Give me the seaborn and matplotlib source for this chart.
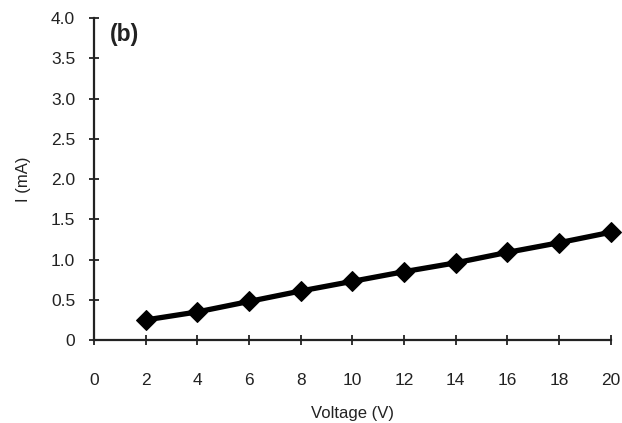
import matplotlib
matplotlib.use("Agg")
import matplotlib.pyplot as plt
import seaborn as sns
import pandas as pd

voltage = [2, 4, 6, 8, 10, 12, 14, 16, 18, 20]
current = [0.25, 0.35, 0.48, 0.61, 0.73, 0.85, 0.96, 1.09, 1.21, 1.34]
x_ticks = [0, 2, 4, 6, 8, 10, 12, 14, 16, 18, 20]
y_ticks = [0, 0.5, 1.0, 1.5, 2.0, 2.5, 3.0, 3.5, 4.0]
y_tick_labels = ["0", "0.5", "1.0", "1.5", "2.0", "2.5", "3.0", "3.5", "4.0"]

sns.set_style("white")
plt.rcParams['font.family'] = ['Liberation Sans', 'DejaVu Sans']

df = pd.DataFrame({"V": voltage, "I": current})
fig = plt.figure(figsize=(6.22, 4.23), dpi=100)
ax = fig.add_axes([0.151, 0.196, 0.831, 0.761])
sns.lineplot(data=df, x="V", y="I", ax=ax, color="black", linewidth=3.8,
             marker="D", markersize=10, markeredgecolor="black", clip_on=False)
ax.set_xlim(0, 20)
ax.set_ylim(0, 4.0)
ax.set_xticks(x_ticks)
ax.set_xticklabels([str(t) for t in x_ticks])
ax.set_yticks(y_ticks)
ax.set_yticklabels(y_tick_labels)
for s in ["top", "right"]:
    ax.spines[s].set_visible(False)
for s in ["left", "bottom"]:
    ax.spines[s].set_color("#222222")
    ax.spines[s].set_linewidth(1.6)
ax.tick_params(axis="both", bottom=True, left=True, direction="inout", length=7, width=1.3,
               colors="#222222", labelsize=12.5, labelcolor="#222222")
ax.tick_params(axis="x", pad=20)
ax.tick_params(axis="y", pad=10)
ax.set_xlabel("Voltage (V)", fontsize=12, color="#222222", labelpad=13)
ax.set_ylabel("I (mA)", fontsize=12, color="#222222", labelpad=14)
ax.text(0.03, 0.985, "(b)", transform=ax.transAxes, fontsize=16.5,
        fontweight="bold", va="top", ha="left", color="#222222")
fig.savefig("out.png", dpi=100)
